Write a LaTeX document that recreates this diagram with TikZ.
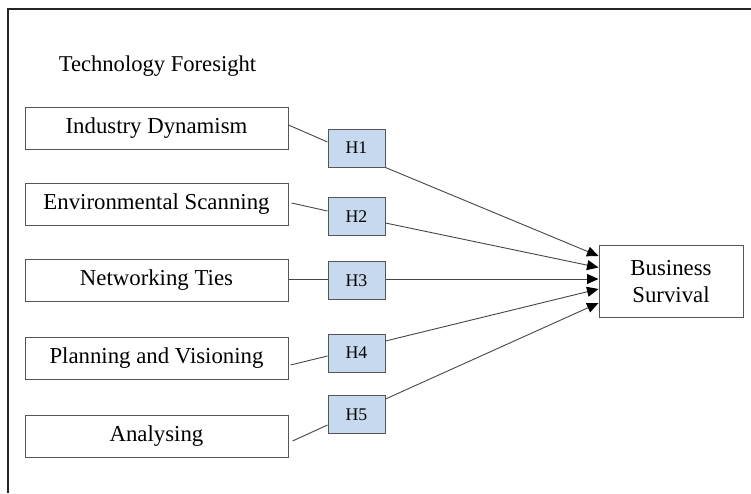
\documentclass[tikz,border=0pt]{standalone}
\usepackage{fontspec}
\setmainfont{Liberation Serif}
\usetikzlibrary{arrows.meta}
\definecolor{hblue}{RGB}{198,217,238}
\definecolor{edge}{RGB}{85,85,85}
\definecolor{wire}{RGB}{70,70,70}
\begin{document}
\begin{tikzpicture}[x=1pt,y=-1pt,
  factor/.style={draw=edge,line width=1pt,fill=white,minimum width=263pt,minimum height=42pt,inner sep=0pt,font=\fontsize{22.8}{26.7}\selectfont},
  hyp/.style={draw=edge,line width=1pt,fill=hblue,minimum width=57pt,minimum height=38pt,inner sep=0pt,font=\fontsize{17.8}{20}\selectfont},
  outcome/.style={draw=edge,line width=1pt,fill=white,minimum width=144pt,minimum height=72pt,inner sep=0pt,align=center,font=\fontsize{22.8}{26.7}\selectfont},
  wirestyle/.style={draw=wire,line width=0.9pt},
  arrowstyle/.style={draw=wire,line width=0.9pt,-{Triangle[length=11.5pt,width=10pt,color=black]}}]
\useasboundingbox (0,0) rectangle (751,493);
\fill[white] (0,0) rectangle (751,493);
\draw[line width=2pt,draw=black!85] (8,493) -- (8,9) -- (751,9);
\node[font=\fontsize{22.6}{26}\selectfont] (title) at (157.5,66) {Technology Foresight};
\node[factor] (ind) at (156.5,128) {Industry Dynamism};
\node[factor] (env) at (156.5,204) {Environmental Scanning};
\node[factor] (net) at (156.5,280) {Networking Ties};
\node[factor] (pla) at (156.5,358) {Planning and Visioning};
\node[factor] (ana) at (156.5,436) {Analysing};
\node[hyp] (h1) at (356.5,148) {H1};
\node[hyp] (h2) at (356.5,216.5) {H2};
\node[hyp] (h3) at (356.5,280.5) {H3};
\node[hyp] (h4) at (356.5,353) {H4};
\node[hyp] (h5) at (356.5,414.5) {H5};
\node[outcome] (bs) at (671,281.5) {Business\\Survival};
\draw[wirestyle] ([yshift=3pt]ind.east) -- ([yshift=6pt]h1.west);
\draw[wirestyle] ([xshift=3pt,yshift=1pt]env.east) -- ([yshift=5.5pt]h2.west);
\draw[wirestyle] ([yshift=1pt]net.east) -- ([yshift=1.5pt]h3.west);
\draw[wirestyle] ([xshift=2pt,yshift=-7pt]pla.east) -- ([yshift=-3pt]h4.west);
\draw[wirestyle] ([xshift=4pt,yshift=-5pt]ana.east) -- ([yshift=-10.5pt]h5.west);
\draw[arrowstyle] (h1.south east) -- ([yshift=25.5pt]bs.west);
\draw[arrowstyle] ([yshift=-6.5pt]h2.east) -- ([yshift=14pt]bs.west);
\draw[arrowstyle] ([yshift=1.5pt]h3.east) -- ([yshift=2.5pt]bs.west);
\draw[arrowstyle] ([yshift=12pt]h4.east) -- ([yshift=-7.5pt]bs.west);
\draw[arrowstyle] ([yshift=15.5pt]h5.east) -- ([yshift=-21.5pt]bs.west);
\end{tikzpicture}
\end{document}
